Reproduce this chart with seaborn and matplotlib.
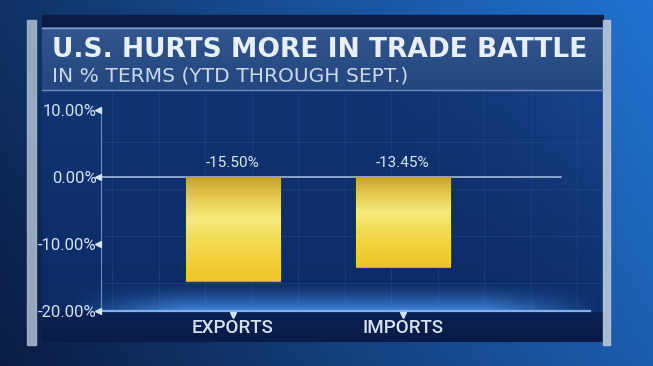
import numpy as np
import pandas as pd
import matplotlib
matplotlib.use("Agg")
import matplotlib.pyplot as plt
import matplotlib.transforms as mtransforms
from matplotlib.colors import LinearSegmentedColormap
import seaborn as sns

# ---- data ----
categories = ["EXPORTS", "IMPORTS"]
values = [-15.50, -13.45]
value_labels = ["-15.50%", "-13.45%"]
ytick_values = [10, 0, -10, -20]
ytick_labels = ["10.00%", "0.00%", "-10.00%", "-20.00%"]
title = "U.S. HURTS MORE IN TRADE BATTLE"
subtitle = "IN % TERMS (YTD THROUGH SEPT.)"

sns.set_theme(style="dark")
plt.rcParams["font.family"] = ["Roboto", "DejaVu Sans"]

W, H = 653, 366
fig = plt.figure(figsize=(W / 100, H / 100), dpi=100)

# ---- background decoration (pixel coordinates) ----
bg = fig.add_axes([0, 0, 1, 1])
bg.set_xlim(0, W)
bg.set_ylim(H, 0)
bg.axis("off")

yy, xx = np.mgrid[0:H, 0:W]
xs = xx / W
ys = yy / H
base_dark = np.array([0.04, 0.11, 0.26])
base_bright = np.array([0.13, 0.45, 0.82])
t = np.clip(0.25 + 0.75 * xs - 0.25 * ys, 0, 1)[..., None]
img = base_dark * (1 - t) + base_bright * t
bg.imshow(img, extent=[0, W, H, 0], aspect="auto", zorder=0)

def grad_rect(x0, y0, x1, y1, top, bottom, z, alpha=1.0):
    cm = LinearSegmentedColormap.from_list("g", [top, bottom])
    g = np.linspace(0, 1, 64)[:, None]
    bg.imshow(g, cmap=cm, extent=[x0, x1, y1, y0], aspect="auto", zorder=z, alpha=alpha)

# chart panel
grad_rect(42, 90, 603, 342, "#113473", "#0c2a63", 1)
# diagonal lighter sheen on right
cm_s = LinearSegmentedColormap.from_list("s", [(0.07, 0.2, 0.45, 0.0), (0.12, 0.3, 0.6, 0.5)])
sx = np.linspace(0, 1, 200)[None, :]
sy = np.linspace(0, 1, 120)[:, None]
sheen = np.clip((sx - 0.55) * 2.2 - (sy - 0.2) * 0.8, 0, 1)
bg.imshow(sheen, cmap=cm_s, extent=[42, 603, 342, 90], aspect="auto", zorder=1.1)
# background grid texture
for gx in np.arange(112, 603, 46.5):
    bg.plot([gx, gx], [92, 310], color="#3a62a8", lw=0.5, alpha=0.35, zorder=1.2)
for gy in np.arange(142, 310, 47):
    bg.plot([101, 600], [gy, gy], color="#3a62a8", lw=0.5, alpha=0.35, zorder=1.2)
# glow above baseline, fading vertically and at the sides
gxv = np.linspace(0, 1, 300)[None, :]
gyv = np.linspace(0, 1, 60)[:, None]
glow_a = (gyv ** 1.5) * np.clip(np.sin(np.pi * gxv) * 1.6, 0, 1) * 0.8
glow = np.zeros((60, 300, 4))
glow[..., 0] = 0.30
glow[..., 1] = 0.60
glow[..., 2] = 0.97
glow[..., 3] = glow_a
bg.imshow(glow, extent=[70, 600, 311, 280], aspect="auto", zorder=1.3)
# bottom label strip
grad_rect(42, 312, 603, 342, "#0b2254", "#091b45", 1.4)
# title banner
bg.add_patch(plt.Rectangle((42, 15), 561, 12, color="#0b1d44", zorder=2))
grad_rect(42, 27, 603, 90, "#33568f", "#24467e", 2)
bg.plot([42, 603], [28, 28], color="#7f9fcc", lw=1, zorder=2.1)
bg.plot([42, 603], [90, 90], color="#6e8fc2", lw=1, zorder=2.1)
# side frame bars
bg.add_patch(plt.Rectangle((27, 20), 9, 325, color="#a7b6ca", alpha=0.9, zorder=2))
bg.add_patch(plt.Rectangle((603, 20), 7, 325, color="#b9c6d6", alpha=0.9, zorder=2))

bg.text(52, 57, title, fontsize=19.1, fontweight="bold", color="#e9eff7",
        family=["DejaVu Sans"], ha="left", va="baseline", zorder=3)
bg.text(52, 82, subtitle, fontsize=14.6, color="#cbd8ea",
        family=["DejaVu Sans"], ha="left", va="baseline", zorder=3)

# ---- data axes ----
left, right = 101 / W, 590 / W
bottom_px, top_px = 311, 110
ax = fig.add_axes([left, 1 - bottom_px / H, right - left, (bottom_px - top_px) / H])
ax.patch.set_alpha(0)

df = pd.DataFrame({"category": categories, "value": values})
sns.barplot(data=df, x="category", y="value", width=0.553, color="#f0d24a",
            edgecolor="#c9a21e", linewidth=0.8, ax=ax, zorder=3)

# gold gradient inside bars
gold = LinearSegmentedColormap.from_list(
    "gold", ["#c7a22a", "#e6cb52", "#f6ea7c", "#f2dc55", "#f1d03a", "#eec52c"])
grad = np.linspace(0, 1, 128)[:, None]
for p in ax.patches:
    x0, y0 = p.get_x(), p.get_y()
    w, h = p.get_width(), p.get_height()
    ylo, yhi = min(y0, y0 + h), max(y0, y0 + h)
    im = ax.imshow(grad, cmap=gold, extent=[x0, x0 + w, ylo, yhi], origin="upper",
                   aspect="auto", zorder=3.5)
    im.set_clip_path(p)
ax.set_xlim(-0.776, 2.1)
ax.set_ylim(-20, 10)

# zero line
ax.axhline(0, xmin=0, xmax=0.94, color="#9fb8dc", lw=1.2, zorder=2)

# value labels
for i, (v, lab) in enumerate(zip(values, value_labels)):
    ax.text(i, 1.0, lab, ha="center", va="bottom", fontsize=11,
            color="#dce7f4", zorder=4)

# axes styling
for s in ["top", "right"]:
    ax.spines[s].set_visible(False)
ax.spines["left"].set_color("#6d8cc0")
ax.spines["left"].set_linewidth(0.8)
ax.spines["bottom"].set_color("#7fb0ea")
ax.spines["bottom"].set_linewidth(1.6)
ax.grid(False)
ax.set_yticks(ytick_values)
ax.set_yticklabels(ytick_labels)
ax.tick_params(axis="y", length=0, pad=3, labelsize=12, labelcolor="#d5e2f2")
ax.tick_params(axis="x", length=0, pad=6, labelsize=13.5, labelcolor="#d5e2f2")
for lab in ax.get_xticklabels():
    lab.set_fontweight("medium")
ax.set_xlabel("")
ax.set_ylabel("")

# triangle tick markers
ty = mtransforms.blended_transform_factory(ax.transAxes, ax.transData)
ax.plot([-0.006] * len(ytick_values), ytick_values, linestyle="none", marker="<",
        markersize=4, color="#d5e2f2", transform=ty, clip_on=False, zorder=5)
tx = mtransforms.blended_transform_factory(ax.transData, ax.transAxes)
ax.plot(range(len(categories)), [-0.018] * len(categories), linestyle="none", marker="v",
        markersize=4, color="#d5e2f2", transform=tx, clip_on=False, zorder=5)

fig.savefig("out.png", dpi=100)
